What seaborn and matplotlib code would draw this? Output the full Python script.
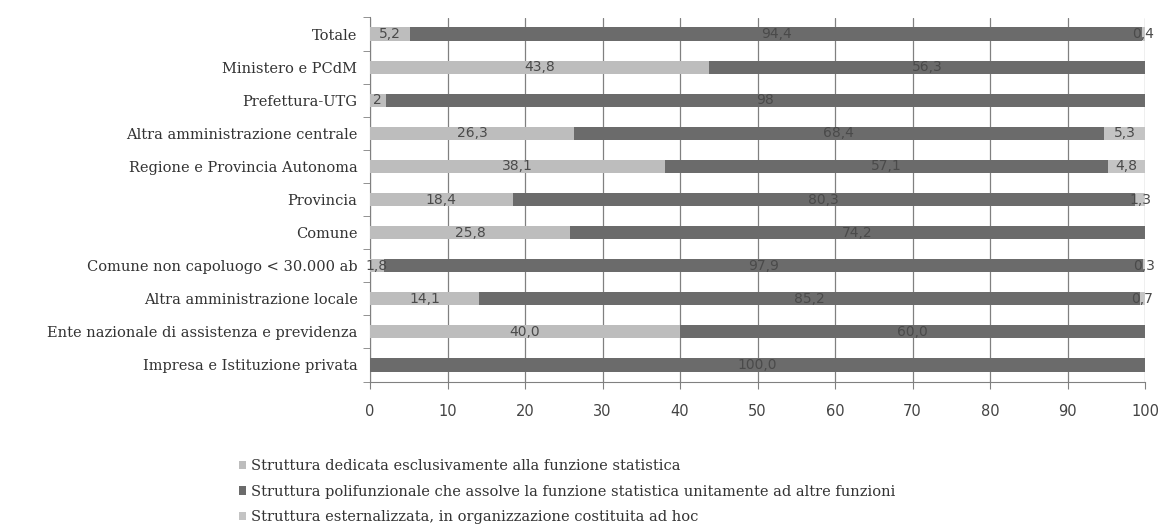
import numpy as np
import pandas as pd
import matplotlib
matplotlib.use("Agg")
import matplotlib.pyplot as plt
import seaborn as sns
from matplotlib.patches import Patch
from matplotlib.ticker import MultipleLocator, FixedLocator

# Dati
categorie = [
    "Totale",
    "Ministero e PCdM",
    "Prefettura-UTG",
    "Altra amministrazione centrale",
    "Regione e Provincia Autonoma",
    "Provincia",
    "Comune",
    "Comune non capoluogo < 30.000 ab",
    "Altra amministrazione locale",
    "Ente nazionale di assistenza e previdenza",
    "Impresa e Istituzione privata",
]
dedicata = [5.2, 43.8, 2, 26.3, 38.1, 18.4, 25.8, 1.8, 14.1, 40.0, 0.0]
polifunzionale = [94.4, 56.3, 98, 68.4, 57.1, 80.3, 74.2, 97.9, 85.2, 60.0, 100.0]
esternalizzata = [0.4, 0.0, 0.0, 5.3, 4.8, 1.3, 0.0, 0.3, 0.7, 0.0, 0.0]

etichette_dedicata = ["5,2", "43,8", "2", "26,3", "38,1", "18,4", "25,8", "1,8", "14,1", "40,0", ""]
etichette_poli = ["94,4", "56,3", "98", "68,4", "57,1", "80,3", "74,2", "97,9", "85,2", "60,0", "100,0"]
etichette_est = ["0,4", "", "", "5,3", "4,8", "1,3", "", "0,3", "0,7", "", ""]

serie = [
    "Struttura dedicata esclusivamente alla funzione statistica",
    "Struttura polifunzionale che assolve la funzione statistica unitamente ad altre funzioni",
    "Struttura esternalizzata, in organizzazione costituita ad hoc",
]

CHIARO = "#bdbdbd"
SCURO = "#6b6b6b"
CHIARO2 = "#c4c4c4"

df = pd.DataFrame({
    "categoria": categorie,
    "d": dedicata,
    "p": polifunzionale,
    "e": esternalizzata,
})
df["cum1"] = df["d"]
df["cum2"] = df["d"] + df["p"]
df["cum3"] = df["cum2"] + df["e"]

sns.set_style("white")
fig = plt.figure(figsize=(11.62, 5.27), dpi=100)
ax = fig.add_axes([370 / 1162, 1 - 381.5 / 527, 775 / 1162, 364 / 527])

# barre sovrapposte con le somme cumulate
sns.barplot(data=df, x="cum3", y="categoria", color=CHIARO2, width=0.4,
            orient="h", linewidth=0, saturation=1, ax=ax, zorder=3)
sns.barplot(data=df, x="cum2", y="categoria", color=SCURO, width=0.4,
            orient="h", linewidth=0, saturation=1, ax=ax, zorder=3)
sns.barplot(data=df, x="cum1", y="categoria", color=CHIARO, width=0.4,
            orient="h", linewidth=0, saturation=1, ax=ax, zorder=3)

# etichette dei valori al centro di ogni segmento
for i in range(len(categorie)):
    segs = [
        (0, dedicata[i], etichette_dedicata[i]),
        (dedicata[i], polifunzionale[i], etichette_poli[i]),
        (dedicata[i] + polifunzionale[i], esternalizzata[i], etichette_est[i]),
    ]
    for start, w, lab in segs:
        if lab:
            ax.text(start + w / 2, i, lab, ha="center", va="center",
                    fontsize=10, color="#4a4a4a", family="DejaVu Sans", zorder=4)

ax.set_xlim(0, 100)
ax.set_ylim(len(categorie) - 0.5, -0.5)
ax.xaxis.set_major_locator(MultipleLocator(10))
ax.grid(axis="x", color="#808080", linewidth=0.9, zorder=0)
ax.grid(axis="y", visible=False)
ax.set_xlabel("")
ax.set_ylabel("")

for s in ["top", "right"]:
    ax.spines[s].set_visible(False)
ax.spines["left"].set_color("#808080")
ax.spines["bottom"].set_color("#808080")

ax.yaxis.set_minor_locator(FixedLocator(np.arange(-0.5, len(categorie), 1.0)))
ax.tick_params(axis="y", which="major", length=0, pad=9)
ax.tick_params(axis="y", which="minor", length=5, color="#808080", left=True)
ax.tick_params(axis="x", which="major", length=5, color="#808080", bottom=True,
               pad=11, labelsize=10.5, labelcolor="#444444")
for t in ax.get_yticklabels():
    t.set_family("DejaVu Serif")
    t.set_fontsize(10.5)
    t.set_color("#333333")

handles = [Patch(facecolor=CHIARO, edgecolor="none"),
           Patch(facecolor=SCURO, edgecolor="none"),
           Patch(facecolor=CHIARO2, edgecolor="none")]
fig.legend(handles, serie, loc="upper left", bbox_to_anchor=(226 / 1162, 1 - 446 / 527),
           frameon=False, handlelength=0.5, handleheight=0.5, handletextpad=0.3,
           labelspacing=0.8, prop={"family": "DejaVu Serif", "size": 10.5})
for t in fig.legends[0].get_texts():
    t.set_color("#333333")

fig.savefig("out.png", dpi=100)
